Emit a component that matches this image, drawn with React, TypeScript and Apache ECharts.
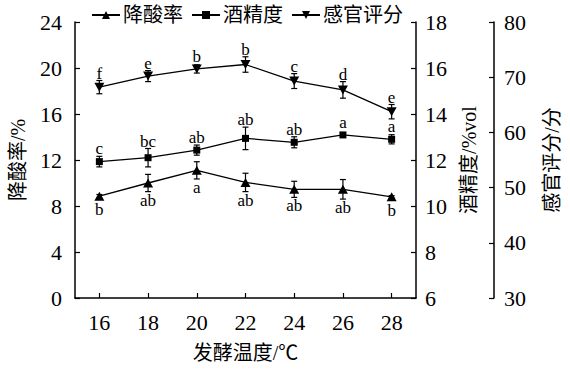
import React, { useEffect, useRef } from "react";
import * as echarts from "echarts";

const temperatures = ["16", "18", "20", "22", "24", "26", "28"];

const acidReduction = [8.85, 10.0, 11.1, 10.05, 9.45, 9.45, 8.8];
const acidReductionErr = [0.15, 0.75, 0.75, 0.8, 0.7, 0.85, 0.1];
const acidReductionLetters = ["b", "ab", "a", "ab", "ab", "ab", "b"];

const alcohol = [11.93, 12.1, 12.43, 12.94, 12.77, 13.09, 12.9];
const alcoholErr = [0.23, 0.4, 0.22, 0.49, 0.24, 0.1, 0.2];
const alcoholLetters = ["c", "bc", "ab", "ab", "ab", "a", "a"];

const sensory = [68.2, 70.2, 71.5, 72.3, 69.3, 67.7, 63.75];
const sensoryErr = [1.2, 1.0, 0.75, 1.4, 1.35, 1.5, 1.3];
const sensoryLetters = ["f", "e", "b", "b", "c", "d", "e"];

const FONT = "Liberation Serif, Noto Sans CJK SC, serif";

function errSeries(
  name: string,
  values: number[],
  errs: number[],
  letters: string[],
  yAxisIndex: number,
  above: boolean
) {
  return {
    type: "custom",
    name,
    yAxisIndex,
    silent: true,
    z: 3,
    encode: { x: 0, y: 1 },
    data: values.map((v, i) => [i, v, errs[i]]),
    renderItem: (params: any, api: any) => {
      const x = api.value(0);
      const y = api.value(1);
      const e = api.value(2);
      const pt = api.coord([x, y]);
      const top = api.coord([x, y + e]);
      const bot = api.coord([x, y - e]);
      const cap = 3;
      const stroke = { stroke: "#000", lineWidth: 1.2 };
      const children: any[] = [
        { type: "line", shape: { x1: top[0], y1: top[1], x2: bot[0], y2: bot[1] }, style: stroke },
        { type: "line", shape: { x1: top[0] - cap, y1: top[1], x2: top[0] + cap, y2: top[1] }, style: stroke },
        { type: "line", shape: { x1: bot[0] - cap, y1: bot[1], x2: bot[0] + cap, y2: bot[1] }, style: stroke },
      ];
      const letter = letters[params.dataIndex];
      if (above) {
        const t = Math.min(top[1], pt[1] - 5);
        children.push({
          type: "text",
          style: {
            text: letter,
            x: pt[0],
            y: t + 1,
            align: "center",
            verticalAlign: "bottom",
            fontSize: 17,
            fontFamily: FONT,
            fill: "#000",
          },
        });
      } else {
        const b = Math.max(bot[1], pt[1] + 5);
        children.push({
          type: "text",
          style: {
            text: letter,
            x: pt[0],
            y: b,
            align: "center",
            verticalAlign: "top",
            fontSize: 17,
            fontFamily: FONT,
            fill: "#000",
          },
        });
      }
      return { type: "group", children };
    },
  };
}

export default function App() {
  const ref = useRef<HTMLDivElement>(null);

  useEffect(() => {
    document.body.style.margin = "0";
    if (!ref.current) return;
    const chart = echarts.init(ref.current, undefined, { renderer: "svg" });
    const axisLine = { show: true, lineStyle: { color: "#000", width: 1.5 } };
    const axisTick = { show: true, inside: true, length: 5, lineStyle: { color: "#000", width: 1.2 } };
    const axisLabel = { color: "#000", fontSize: 22, fontFamily: FONT };
    const nameTextStyle = { color: "#000", fontSize: 20, fontFamily: FONT };
    const lineStyle = { color: "#000", width: 1.3 };

    chart.setOption({
      animation: false,
      backgroundColor: "#fff",
      textStyle: { fontFamily: FONT },
      legend: {
        left: 86,
        top: 0,
        itemWidth: 28,
        itemHeight: 10,
        itemGap: 8,
        data: ["降酸率", "酒精度", "感官评分"],
        textStyle: { color: "#000", fontSize: 20, fontFamily: FONT, padding: [0, 0, 0, -2] },
      },
      grid: { left: 70, right: 146, top: 22, bottom: 71 },
      xAxis: {
        type: "category",
        data: temperatures,
        boundaryGap: true,
        axisLine,
        axisTick: { ...axisTick, alignWithLabel: true },
        axisLabel: { ...axisLabel, margin: 13 },
        splitLine: { show: false },
        name: "发酵温度/℃",
        nameLocation: "middle",
        nameGap: 45,
        nameTextStyle,
      },
      yAxis: [
        {
          type: "value",
          position: "left",
          min: 0,
          max: 24,
          interval: 4,
          axisLine,
          axisTick,
          axisLabel: { ...axisLabel, margin: 13 },
          splitLine: { show: false },
          name: "降酸率/%",
          nameLocation: "middle",
          nameRotate: 90,
          nameGap: 47,
          nameTextStyle,
        },
        {
          type: "value",
          position: "right",
          offset: 0,
          min: 6,
          max: 18,
          interval: 2,
          axisLine,
          axisTick,
          axisLabel: { ...axisLabel, margin: 9 },
          splitLine: { show: false },
          name: "酒精度/%vol",
          nameLocation: "middle",
          nameRotate: 90,
          nameGap: 43,
          nameTextStyle,
        },
        {
          type: "value",
          position: "right",
          offset: 78,
          min: 30,
          max: 80,
          interval: 10,
          axisLine,
          axisTick,
          axisLabel: { ...axisLabel, margin: 10 },
          splitLine: { show: false },
          name: "感官评分/分",
          nameLocation: "middle",
          nameRotate: 90,
          nameGap: 48,
          nameTextStyle,
        },
      ],
      series: [
        {
          type: "line",
          name: "降酸率",
          yAxisIndex: 0,
          data: acidReduction,
          symbol: "triangle",
          symbolSize: [10, 9],
          itemStyle: { color: "#000" },
          lineStyle,
          z: 4,
        },
        {
          type: "line",
          name: "酒精度",
          yAxisIndex: 1,
          data: alcohol,
          symbol: "rect",
          symbolSize: 7,
          itemStyle: { color: "#000" },
          lineStyle,
          z: 4,
        },
        {
          type: "line",
          name: "感官评分",
          yAxisIndex: 2,
          data: sensory,
          symbol: "triangle",
          symbolRotate: 180,
          symbolSize: [10, 9],
          itemStyle: { color: "#000" },
          lineStyle,
          z: 4,
        },
        errSeries("err-acid", acidReduction, acidReductionErr, acidReductionLetters, 0, false),
        errSeries("err-alcohol", alcohol, alcoholErr, alcoholLetters, 1, true),
        errSeries("err-sensory", sensory, sensoryErr, sensoryLetters, 2, true),
      ],
    });
    return () => chart.dispose();
  }, []);

  return <div ref={ref} style={{ width: 570, height: 369 }} />;
}
